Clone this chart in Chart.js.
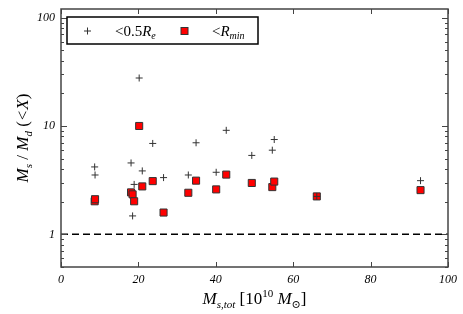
<!DOCTYPE html>
<html>
<head>
<meta charset="utf-8">
<script src="https://cdn.jsdelivr.net/npm/chart.js@4.4.0/dist/chart.umd.min.js"></script>
<style>
html, body { margin: 0; padding: 0; background: #fff; }
</style>
</head>
<body>
<canvas id="massChart" width="463" height="314"></canvas>
<script>
// total stellar mass of each galaxy [10^10 Msun]
var massTot = [8.7, 8.8, 18.1, 18.5, 18.9, 21.0, 23.7, 26.5, 20.2, 32.9, 34.9, 40.1, 42.7, 49.3, 54.6, 55.1, 66.1, 92.9];
// Ms/Md inside 0.5 Re
var ratioHalfRe = [4.19, 3.53, 4.56, 1.48, 2.89, 3.85, 6.9, 3.34, 27.7, 3.53, 7.0, 3.74, 9.12, 5.35, 5.98, 7.5, 2.24, 3.13];
// Ms/Md inside Rmin
var ratioRmin = [2.02, 2.11, 2.44, 2.34, 2.02, 2.77, 3.1, 1.59, 10.0, 2.42, 3.13, 2.6, 3.56, 2.98, 2.73, 3.07, 2.24, 2.56];
// unity line
var unityX = [0, 100];
var unityY = [1, 1];
var yTickLabels = [1, 10, 100];

var serif = '"Liberation Serif", "DejaVu Serif", serif';

function toPoints(xs, ys) {
    return xs.map(function (x, i) { return { x: x, y: ys[i] }; });
}

function runsWidth(ctx, runs) {
    var w = 0;
    runs.forEach(function (r) { ctx.font = r.f; w += ctx.measureText(r.t).width; });
    return w;
}

function drawRuns(ctx, runs, x, y) {
    runs.forEach(function (r) {
        ctx.font = r.f;
        ctx.fillText(r.t, x, y + (r.dy || 0));
        x += ctx.measureText(r.t).width;
    });
    return x;
}

var big = 'italic 17px ' + serif;
var bigUp = '17px ' + serif;
var small = 'italic 11px ' + serif;
var smallUp = '11px ' + serif;

var extras = {
    id: 'extras',
    afterDraw: function (chart) {
        var ctx = chart.ctx;
        var a = chart.chartArea;
        var xs = chart.scales.x, ys = chart.scales.y;
        ctx.save();

        // frame
        ctx.strokeStyle = '#444';
        ctx.lineWidth = 1.5;
        ctx.strokeRect(a.left, a.top, a.right - a.left, a.bottom - a.top);

        // inward ticks
        ctx.lineWidth = 1;
        ctx.strokeStyle = '#444';
        ctx.beginPath();
        for (var v = 0; v <= 100; v += 20) {
            var px = Math.round(xs.getPixelForValue(v)) + 0.5;
            ctx.moveTo(px, a.bottom); ctx.lineTo(px, a.bottom - 5);
            ctx.moveTo(px, a.top); ctx.lineTo(px, a.top + 5);
        }
        for (var e = -1; e <= 2; e++) {
            for (var m = 1; m <= 9; m++) {
                var val = m * Math.pow(10, e);
                if (val < 0.5 || val > 120) continue;
                var py = Math.round(ys.getPixelForValue(val)) + 0.5;
                var len = m === 1 ? 6 : 3;
                ctx.moveTo(a.left, py); ctx.lineTo(a.left + len, py);
                ctx.moveTo(a.right, py); ctx.lineTo(a.right - len, py);
            }
        }
        ctx.stroke();

        ctx.fillStyle = '#000';
        ctx.textBaseline = 'alphabetic';

        // x title
        var xRuns = [
            { t: 'M', f: big }, { t: 's,tot', f: small, dy: 4 },
            { t: ' [10', f: bigUp }, { t: '10', f: smallUp, dy: -7 },
            { t: ' M', f: big }, { t: '\u2299', f: smallUp, dy: 4 }, { t: ']', f: bigUp }
        ];
        var xw = runsWidth(ctx, xRuns);
        drawRuns(ctx, xRuns, (a.left + a.right) / 2 - xw / 2, 304);

        // y title
        var yRuns = [
            { t: 'M', f: big }, { t: 's', f: small, dy: 4 },
            { t: ' / ', f: bigUp }, { t: 'M', f: big }, { t: 'd', f: small, dy: 4 },
            { t: ' (', f: bigUp }, { t: '<X', f: big }, { t: ')', f: bigUp }
        ];
        var yw = runsWidth(ctx, yRuns);
        ctx.save();
        ctx.translate(28, (a.top + a.bottom) / 2);
        ctx.rotate(-Math.PI / 2);
        drawRuns(ctx, yRuns, -yw / 2, 0);
        ctx.restore();

        // legend
        var lx = 67, ly = 17, lw = 191, lh = 27;
        ctx.fillStyle = '#fff';
        ctx.fillRect(lx, ly, lw, lh);
        ctx.strokeStyle = '#000';
        ctx.lineWidth = 1.5;
        ctx.strokeRect(lx, ly, lw, lh);

        var cy = ly + lh / 2;
        ctx.strokeStyle = '#333';
        ctx.lineWidth = 1;
        ctx.beginPath();
        ctx.moveTo(84, cy + 0.5); ctx.lineTo(91, cy + 0.5);
        ctx.moveTo(87.5, cy - 3); ctx.lineTo(87.5, cy + 4);
        ctx.stroke();

        ctx.fillStyle = '#ff0000';
        ctx.fillRect(181, cy - 3, 7, 7);
        ctx.strokeRect(181, cy - 3, 7, 7);

        ctx.fillStyle = '#000';
        var legA = [
            { t: '<0.5', f: '15px ' + serif }, { t: 'R', f: 'italic 15px ' + serif },
            { t: 'e', f: 'italic 10px ' + serif, dy: 3 }
        ];
        drawRuns(ctx, legA, 115, cy + 5);
        var legB = [
            { t: '<', f: '15px ' + serif }, { t: 'R', f: 'italic 15px ' + serif },
            { t: 'min', f: 'italic 10px ' + serif, dy: 3 }
        ];
        drawRuns(ctx, legB, 212, cy + 5);

        ctx.restore();
    }
};

new Chart(document.getElementById('massChart'), {
    type: 'scatter',
    data: {
        datasets: [{
            label: '<0.5Re',
            data: toPoints(massTot, ratioHalfRe),
            pointStyle: 'cross',
            pointRadius: 3.5,
            pointBorderWidth: 1,
            borderColor: '#333',
            order: 1
        }, {
            label: '<Rmin',
            data: toPoints(massTot, ratioRmin),
            pointStyle: 'rect',
            pointRadius: 5,
            pointBorderWidth: 1,
            backgroundColor: '#ff0000',
            borderColor: '#333',
            order: 2
        }, {
            label: 'unity',
            data: toPoints(unityX, unityY),
            showLine: true,
            borderColor: '#000',
            borderWidth: 1.5,
            borderDash: [7, 4],
            pointRadius: 0,
            order: 3
        }]
    },
    options: {
        responsive: false,
        animation: false,
        devicePixelRatio: 1,
        layout: { padding: { top: 9, right: 15, left: 0, bottom: 0 } },
        plugins: { legend: { display: false }, tooltip: { enabled: false } },
        scales: {
            x: {
                type: 'linear',
                min: 0,
                max: 100,
                grid: { display: false, drawTicks: false },
                border: { display: false },
                ticks: {
                    stepSize: 20,
                    padding: 6,
                    color: '#000',
                    font: { family: serif, size: 12, style: 'italic' }
                },
                afterFit: function (s) { s.height = 47; }
            },
            y: {
                type: 'logarithmic',
                min: 0.5,
                max: 120,
                grid: { display: false, drawTicks: false },
                border: { display: false },
                ticks: {
                    autoSkip: false,
                    padding: 6,
                    color: '#000',
                    font: { family: serif, size: 12, style: 'italic' },
                    callback: function (v) {
                        return yTickLabels.indexOf(Number(v)) >= 0 ? String(v) : '';
                    }
                },
                afterFit: function (s) {
                    s.width = 61;
                    s.paddingTop = 0;
                    s.paddingBottom = 0;
                }
            }
        }
    },
    plugins: [extras]
});
</script>
</body>
</html>
